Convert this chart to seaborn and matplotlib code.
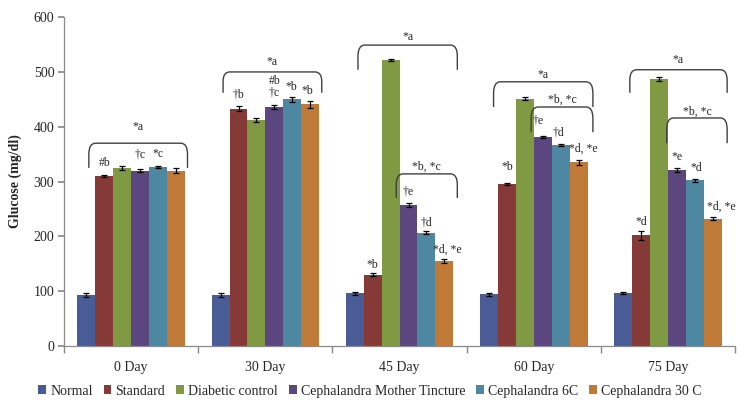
import matplotlib
matplotlib.use("Agg")
import matplotlib.pyplot as plt
import seaborn as sns
import pandas as pd
import numpy as np
from matplotlib.path import Path
from matplotlib.patches import PathPatch

days = ["0 Day", "30 Day", "45 Day", "60 Day", "75 Day"]
groups = ["Normal", "Standard", "Diabetic control", "Cephalandra Mother Tincture",
          "Cephalandra 6C", "Cephalandra 30 C"]
normal = [93, 93, 96, 94, 96]
standard = [310, 433, 130, 295, 202]
diabetic = [325, 412, 522, 451, 487]
mother = [320, 436, 257, 381, 321]
c6 = [327, 450, 207, 366, 302]
c30 = [320, 441, 155, 335, 232]
err_normal = [3, 3, 3, 2, 2]
err_standard = [2, 4, 3, 2, 8]
err_diabetic = [4, 4, 2, 3, 3]
err_mother = [3, 3, 3, 2, 4]
err_c6 = [2, 5, 2, 2, 2]
err_c30 = [4, 6, 4, 5, 3]
colors = ["#4a5c96", "#853a38", "#7f9a42", "#5c4680", "#4e87a2", "#c07a38"]

vals = [normal, standard, diabetic, mother, c6, c30]
errs = [err_normal, err_standard, err_diabetic, err_mother, err_c6, err_c30]
rows = []
for g, v in zip(groups, vals):
    for d, x in zip(days, v):
        rows.append({"Day": d, "Group": g, "Glucose": x})
df = pd.DataFrame(rows)

sns.set_theme(style="white")
SERIF = ["Liberation Serif", "DejaVu Serif"]
plt.rcParams["font.family"] = SERIF

fig = plt.figure(figsize=(7.4, 4.08), dpi=100)
ax = fig.add_axes([0.0865, 0.152, 0.907, 0.806])
sns.barplot(data=df, x="Day", y="Glucose", hue="Group", order=days, hue_order=groups,
            palette=colors, errorbar=None, width=0.8, saturation=1, ax=ax,
            edgecolor="none", linewidth=0)

for cont, e in zip(ax.containers, errs):
    xs = [p.get_x() + p.get_width() / 2 for p in cont.patches]
    hs = [p.get_height() for p in cont.patches]
    ax.errorbar(xs, hs, yerr=e, fmt="none", ecolor="black", elinewidth=0.9,
                capsize=2.5, capthick=0.9)

ax.set_xlim(-0.5, 4.5)
ax.set_ylim(0, 600)
ax.set_yticks(range(0, 601, 100))
ax.set_xlabel("")
ax.set_ylabel("Glucose (mg/dl)", fontsize=10, fontweight="bold", labelpad=8, family=SERIF)
for s in ["top", "right"]:
    ax.spines[s].set_visible(False)
for s in ["left", "bottom"]:
    ax.spines[s].set_color("#8a8a8a")
    ax.spines[s].set_linewidth(0.9)
ax.tick_params(axis="y", which="major", direction="out", length=4, color="#8a8a8a",
               labelsize=10, left=True, pad=3)
ax.tick_params(axis="x", which="major", length=0, labelsize=10, pad=11)
ax.set_xticks(np.arange(-0.5, 4.6, 1), minor=True)
ax.tick_params(axis="x", which="minor", direction="out", length=5, color="#8a8a8a", bottom=True)
for t in ax.get_xticklabels() + ax.get_yticklabels():
    t.set_family(SERIF)

ANN = 8.5

def bracket(xc, x1, x2, yt, yb, label, ly):
    r = 0.05
    rv = (yt - yb) * 0.45
    a, b = xc + x1, xc + x2
    verts = [(a, yb), (a, yt - rv), (a, yt), (a + r, yt),
             (b - r, yt), (b, yt), (b, yt - rv), (b, yb)]
    codes = [Path.MOVETO, Path.LINETO, Path.CURVE3, Path.CURVE3,
             Path.LINETO, Path.CURVE3, Path.CURVE3, Path.LINETO]
    ax.add_patch(PathPatch(Path(verts, codes), fill=False, edgecolor="#404040", lw=1.0))
    ax.text((a + b) / 2, ly, label, ha="center", va="center", fontsize=ANN, family=SERIF)

bw = 0.8 / 6
def bx(gi, bi):
    return gi - 0.4 + bw * (bi + 0.5)

# outer brackets
bracket(0, -0.315, 0.42, 370, 325, "*a", 400)
bracket(1, -0.315, 0.42, 500, 462, "*a", 518)
bracket(2, -0.31, 0.43, 549, 504, "*a", 564)
bracket(3, -0.30, 0.44, 482, 436, "*a", 495)
bracket(4, -0.285, 0.44, 504, 462, "*a", 522)
# inner brackets
bracket(2, -0.025, 0.43, 314, 270, "*b, *c", 327)
bracket(3, -0.02, 0.44, 436, 390, "*b, *c", 449)
bracket(4, -0.01, 0.44, 416, 370, "*b, *c", 427)

labels = [
    (bx(0, 1), 334, "#b"), (bx(0, 3), 349, "†c"), (bx(0, 4), 350, "*c"),
    (bx(1, 1), 458, "†b"), (bx(1, 3), 484, "#b"), (bx(1, 3), 462, "†c"),
    (bx(1, 4) - 0.01, 473, "*b"), (bx(1, 5) - 0.02, 466, "*b"),
    (bx(2, 1), 148, "*b"), (bx(2, 3), 281, "†e"), (bx(2, 4), 226, "†d"),
    (2.354, 175, "*d, *e"),
    (bx(3, 1), 327, "*b"), (3.03, 412, "†e"), (bx(3, 4) - 0.02, 390, "†d"),
    (3.37, 359, "*d, *e"),
    (bx(4, 1), 226, "*d"), (bx(4, 3), 345, "*e"), (bx(4, 4) + 0.01, 325, "*d"),
    (4.395, 254, "*d, *e"),
]
for x, y, t in labels:
    ax.text(x, y, t, ha="center", va="center", fontsize=ANN, family=SERIF)

handles, lbls = ax.get_legend_handles_labels()
ax.legend(handles, lbls, loc="lower center", ncol=6, frameon=False,
          prop={"family": SERIF, "size": 10},
          handlelength=0.55, handleheight=0.55, handletextpad=0.3, columnspacing=0.8,
          borderaxespad=0)
leg = ax.get_legend()
leg.set_bbox_to_anchor((0.5, 0.012), transform=fig.transFigure)

fig.savefig("out.png", dpi=100)
